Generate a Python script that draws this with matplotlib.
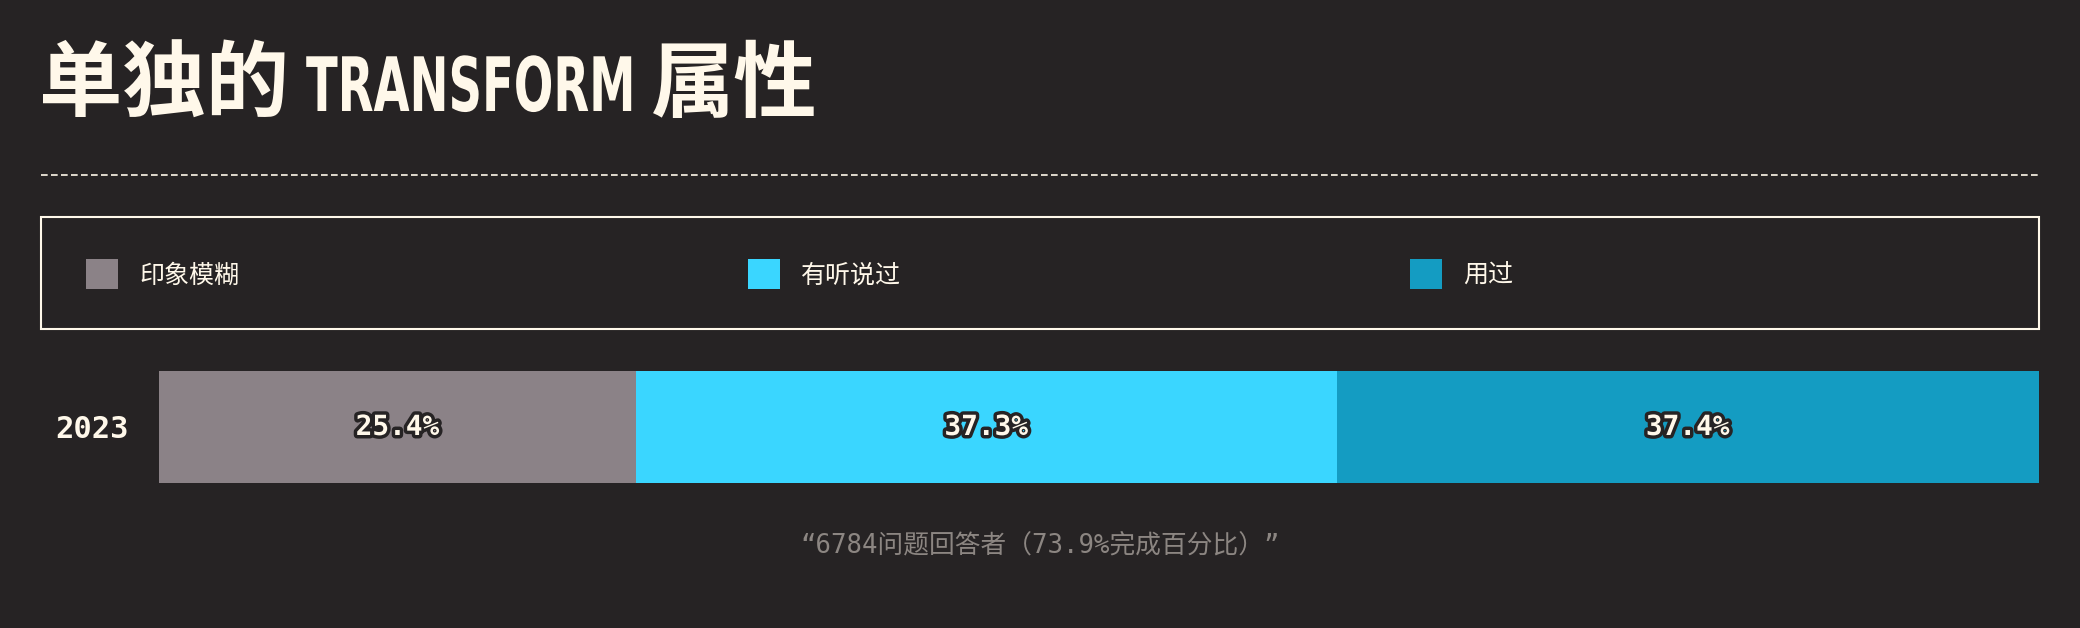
import matplotlib
matplotlib.use('Agg')
import matplotlib.pyplot as plt
from matplotlib import patheffects
from matplotlib.transforms import Affine2D
from matplotlib.patches import Rectangle
from matplotlib.lines import Line2D

# ---- data ----
title_cjk_a = "单独的"
title_latin = "TRANSFORM"
title_cjk_b = "属性"
categories = ["印象模糊", "有听说过", "用过"]
years = ["2023"]
values = [25.4, 37.3, 37.4]
value_labels = ["25.4%", "37.3%", "37.4%"]
footnote = "“6784问题回答者（73.9%完成百分比）”"

BG = '#262324'
CREAM = '#fff8ea'
colors = ['#8b8287', '#3ad6ff', '#149cc2']
NOTE = '#8c8682'

W, H = 2080, 628
fig = plt.figure(figsize=(W / 100, H / 100), dpi=100, facecolor=BG)


def fx(px):
    return px / W


def fy(py):
    return 1 - py / H


class VStretch(patheffects.AbstractPathEffect):
    """Stretch glyph outlines upward from the baseline (simulates a condensed, tall face)."""

    def __init__(self, sy):
        super().__init__()
        self.sy = sy

    def draw_path(self, renderer, gc, tpath, affine, rgbFace=None):
        renderer.draw_path(gc, tpath, Affine2D().scale(1, self.sy) + affine, rgbFace)


CJK = ['Noto Sans CJK SC', 'DejaVu Sans']

# ---- title ----
fig.text(fx(39), fy(111), title_cjk_a, family=CJK, weight='bold', size=60,
         color=CREAM, va='baseline', ha='left')
fig.text(fx(306), fy(111), title_latin, family=['DejaVu Sans'], weight='bold', size=33.5,
         color=CREAM, va='baseline', ha='left', path_effects=[VStretch(1.0 / 0.62)])
fig.text(fx(651), fy(111), title_cjk_b, family=CJK, weight='bold', size=60,
         color=CREAM, va='baseline', ha='left')

# dashed separator
fig.add_artist(Line2D([fx(41), fx(2039)], [fy(175), fy(175)], transform=fig.transFigure,
                      color=CREAM, lw=1.2, dashes=(4, 2)))

# legend frame
fig.add_artist(Rectangle((fx(41), fy(329)), fx(2039) - fx(41), fy(217) - fy(329),
                         transform=fig.transFigure, fill=False, edgecolor=CREAM, lw=1.5))

# ---- bar ----
ax = fig.add_axes([fx(159), fy(483), fx(2039) - fx(159), fy(371) - fy(483)])
ax.set_facecolor(BG)
left = 0
for cat, v, c, lab in zip(categories, values, colors, value_labels):
    bars = ax.barh([0], [v], left=left, height=1.0, color=c, label=cat)
    ax.bar_label(bars, labels=[lab], label_type='center', family='DejaVu Sans Mono',
                 weight='bold', size=20, color=CREAM,
                 path_effects=[patheffects.withStroke(linewidth=5, foreground=BG)])
    left += v
ax.set_xlim(0, sum(values))
ax.set_ylim(-0.5, 0.5)
ax.set_yticks([0], years)
ax.tick_params(axis='y', length=0, pad=22, labelsize=22, labelcolor=CREAM)
for t in ax.get_yticklabels():
    t.set_family('DejaVu Sans Mono')
    t.set_weight('bold')
ax.set_xticks([])
for s in ax.spines.values():
    s.set_visible(False)

# ---- legend ----
handles, labels = ax.get_legend_handles_labels()
leg = fig.legend(handles, labels, loc='center left', bbox_to_anchor=(fx(86), fy(274)),
                 ncol=3, frameon=False, borderpad=0, borderaxespad=0,
                 handlelength=1.28, handleheight=1.47, handletextpad=0.84,
                 columnspacing=20.36, prop={'family': CJK, 'size': 18})
for t in leg.get_texts():
    t.set_color(CREAM)

# ---- footnote ----
fig.text(fx(1040), fy(545), footnote, ha='center', va='center',
         family=['DejaVu Sans Mono', 'Noto Sans CJK SC'], size=18.5, color=NOTE)

fig.savefig('out.png', dpi=100, facecolor=BG)
